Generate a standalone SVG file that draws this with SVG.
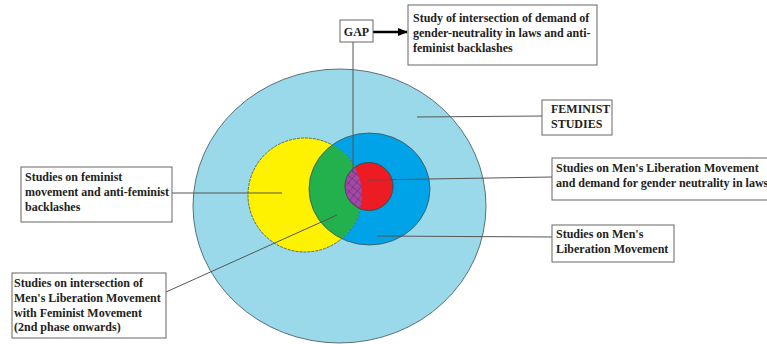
<svg xmlns="http://www.w3.org/2000/svg" width="767" height="344" viewBox="0 0 767 344">
<style>
.t{font-family:"Liberation Serif","Times New Roman",serif;font-weight:bold;font-size:12px;fill:#222}
.box{fill:#fff;stroke:#666;stroke-width:1}
.ln{stroke:#555;stroke-width:1;fill:none}
.ol{stroke:#3f5055;stroke-width:0.8}
</style>
<defs>
<clipPath id="cy"><circle cx="305" cy="195" r="57"/></clipPath>
<clipPath id="cr"><circle cx="369" cy="186.5" r="24"/></clipPath>
<pattern id="hatch" width="6" height="6" patternUnits="userSpaceOnUse" patternTransform="rotate(40)">
<rect width="6" height="6" fill="#a349a4"/>
<path d="M0 0H6M0 0V6" stroke="#5a1f6a" stroke-width="0.8"/>
</pattern>
<marker id="ah" viewBox="0 0 10 10" refX="9" refY="5" markerWidth="4" markerHeight="4" orient="auto">
<path d="M0 1L10 5L0 9Z" fill="#000"/>
</marker>
</defs>
<g id="venn">
<ellipse cx="339.5" cy="206" rx="146.5" ry="137" fill="#99d9ea" class="ol"/>
<ellipse cx="369.5" cy="189" rx="60.5" ry="56" fill="#00a2e8" class="ol"/>
<circle cx="305" cy="195" r="57" fill="#fff200" class="ol" stroke-dasharray="3 1"/>
<ellipse cx="369.5" cy="189" rx="60.5" ry="56" fill="#22b14c" clip-path="url(#cy)" class="ol"/>
<circle cx="369" cy="186.5" r="24" fill="#ed1c24" class="ol"/>
<g clip-path="url(#cr)"><circle cx="305" cy="195" r="57" fill="url(#hatch)"/></g>
<circle cx="369" cy="186.5" r="24" fill="none" class="ol"/>
</g>
<g id="connectors">
<line class="ln" x1="353" y1="42" x2="353" y2="173"/>
<line x1="373" y1="32" x2="407" y2="32" stroke="#000" stroke-width="2.5" marker-end="url(#ah)"/>
<line class="ln" x1="417" y1="117" x2="543" y2="116"/>
<line class="ln" x1="368" y1="180" x2="552" y2="177"/>
<line class="ln" x1="377" y1="236" x2="552" y2="237"/>
<line class="ln" x1="172" y1="193" x2="282" y2="193"/>
<line class="ln" x1="337" y1="215" x2="166" y2="292"/>
</g>
<g id="gap">
<rect class="box" x="340" y="20" width="33" height="22"/>
<text class="t" x="356.5" y="36" text-anchor="middle">GAP</text>
</g>
<g id="study-gap">
<rect class="box" x="408" y="5" width="189" height="60"/>
<text class="t" x="413" y="22">Study of intersection of demand of</text>
<text class="t" x="413" y="37">gender-neutrality in laws and anti-</text>
<text class="t" x="413" y="52">feminist backlashes</text>
</g>
<g id="feminist-studies">
<rect class="box" x="542" y="100" width="70" height="35"/>
<text class="t" x="551" y="113">FEMINIST</text>
<text class="t" x="551" y="128">STUDIES</text>
</g>
<g id="mens-neutrality">
<rect class="box" x="552" y="158" width="220" height="42"/>
<text class="t" x="556" y="172">Studies on Men's Liberation Movement</text>
<text class="t" x="556" y="187">and demand for gender neutrality in laws</text>
</g>
<g id="mens-liberation">
<rect class="box" x="552" y="225" width="122" height="37"/>
<text class="t" x="556" y="238">Studies on Men's</text>
<text class="t" x="556" y="253">Liberation Movement</text>
</g>
<g id="feminist-backlash">
<rect class="box" x="21" y="167" width="151" height="55"/>
<text class="t" x="25" y="181">Studies on feminist</text>
<text class="t" x="25" y="196">movement and anti-feminist</text>
<text class="t" x="25" y="211">backlashes</text>
</g>
<g id="intersection">
<rect class="box" x="12" y="273" width="154" height="65"/>
<text class="t" x="14" y="287">Studies on intersection of</text>
<text class="t" x="14" y="302">Men's Liberation Movement</text>
<text class="t" x="14" y="317">with Feminist Movement</text>
<text class="t" x="14" y="331">(2nd phase onwards)</text>
</g>
</svg>
